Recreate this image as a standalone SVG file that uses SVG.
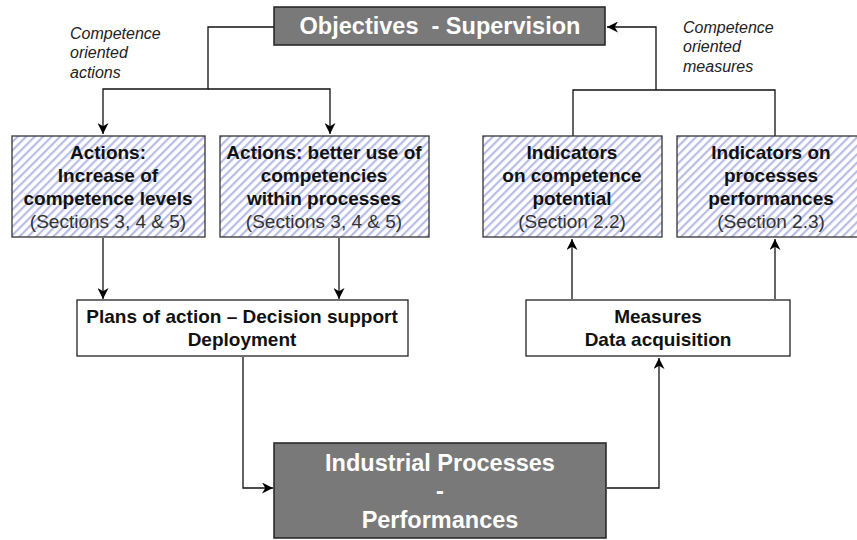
<svg xmlns="http://www.w3.org/2000/svg" width="857" height="540" viewBox="0 0 857 540">
<defs>
<pattern id="hatch" patternUnits="userSpaceOnUse" width="6" height="6" patternTransform="rotate(45)">
<rect width="6" height="6" fill="#ffffff"/>
<rect x="0" y="0" width="2.2" height="6" fill="#b9bce6"/>
</pattern>
<marker id="arr" viewBox="0 0 10 10" refX="10" refY="5" markerWidth="11" markerHeight="11" markerUnits="userSpaceOnUse" orient="auto">
<path d="M0,0 L10,5 L0,10 L3,5 Z" fill="#000"/>
</marker>
<style>
.dark{fill:#797979;stroke:#222;stroke-width:1.5}
.hat{fill:url(#hatch);stroke:#333;stroke-width:1.3}
.white{fill:#fff;stroke:#222;stroke-width:1.3}
.t{font-family:"Liberation Sans",Arial,sans-serif;font-weight:bold;font-size:19px;fill:#111;text-anchor:middle}
.s{font-family:"Liberation Sans",Arial,sans-serif;font-size:19px;fill:#333;text-anchor:middle}
.w{font-family:"Liberation Sans",Arial,sans-serif;font-weight:bold;font-size:23.5px;fill:#fff;text-anchor:middle}
.lab{font-family:"Liberation Sans",Arial,sans-serif;font-style:italic;font-size:16px;fill:#222}
.c{fill:none;stroke:#111;stroke-width:1.3}
</style>
</defs>
<rect width="857" height="540" fill="#fff"/>

<g id="connectors">
<path class="c" d="M274,27 H208 V89 H103 V134" marker-end="url(#arr)"/>
<path class="c" d="M208,89 H330 V134" marker-end="url(#arr)"/>
<path class="c" d="M103,238 V299" marker-end="url(#arr)"/>
<path class="c" d="M339,238 V299" marker-end="url(#arr)"/>
<path class="c" d="M243,357 V488 H273" marker-end="url(#arr)"/>
<path class="c" d="M607,488 H659 V358" marker-end="url(#arr)"/>
<path class="c" d="M572,299 V239" marker-end="url(#arr)"/>
<path class="c" d="M775,299 V239" marker-end="url(#arr)"/>
<path class="c" d="M573,136 V90 H775 V136"/>
<path class="c" d="M656,90 V27 H607" marker-end="url(#arr)"/>
</g>

<g id="label-actions">
<text class="lab" x="70" y="39">Competence</text>
<text class="lab" x="70" y="58">oriented</text>
<text class="lab" x="70" y="78">actions</text>
</g>
<g id="label-measures">
<text class="lab" x="683" y="33">Competence</text>
<text class="lab" x="683" y="52">oriented</text>
<text class="lab" x="683" y="72">measures</text>
</g>

<g id="objectives">
<rect class="dark" x="274" y="7" width="331" height="38"/>
<text class="w" x="440" y="34" font-size="24" xml:space="preserve">Objectives  - Supervision</text>
</g>

<g id="actions-increase">
<rect class="hat" x="12" y="136" width="193" height="101"/>
<text class="t" x="108" y="159">Actions:</text>
<text class="t" x="108" y="182">Increase of</text>
<text class="t" x="108" y="205">competence levels</text>
<text class="s" x="108" y="228">(Sections 3, 4 &amp; 5)</text>
</g>

<g id="actions-better-use">
<rect class="hat" x="220" y="136" width="209" height="101"/>
<text class="t" x="324" y="159">Actions: better use of</text>
<text class="t" x="324" y="182">competencies</text>
<text class="t" x="324" y="205">within processes</text>
<text class="s" x="324" y="228">(Sections 3, 4 &amp; 5)</text>
</g>

<g id="indicators-competence">
<rect class="hat" x="483" y="136" width="179" height="101"/>
<text class="t" x="572" y="159">Indicators</text>
<text class="t" x="572" y="182">on competence</text>
<text class="t" x="572" y="205">potential</text>
<text class="s" x="572" y="228">(Section 2.2)</text>
</g>

<g id="indicators-processes">
<rect class="hat" x="677" y="136" width="192" height="101"/>
<text class="t" x="771" y="159">Indicators on</text>
<text class="t" x="771" y="182">processes</text>
<text class="t" x="771" y="205">performances</text>
<text class="s" x="771" y="228">(Section 2.3)</text>
</g>

<g id="plans">
<rect class="white" x="77" y="300" width="331" height="56"/>
<text class="t" x="242" y="323">Plans of action – Decision support</text>
<text class="t" x="242" y="346">Deployment</text>
</g>

<g id="measures">
<rect class="white" x="526" y="300" width="264" height="56"/>
<text class="t" x="658" y="323">Measures</text>
<text class="t" x="658" y="346">Data acquisition</text>
</g>

<g id="industrial">
<rect class="dark" x="274" y="443" width="332" height="95"/>
<text class="w" x="440" y="471">Industrial Processes</text>
<text class="w" x="440" y="499">-</text>
<text class="w" x="440" y="528">Performances</text>
</g>
</svg>
